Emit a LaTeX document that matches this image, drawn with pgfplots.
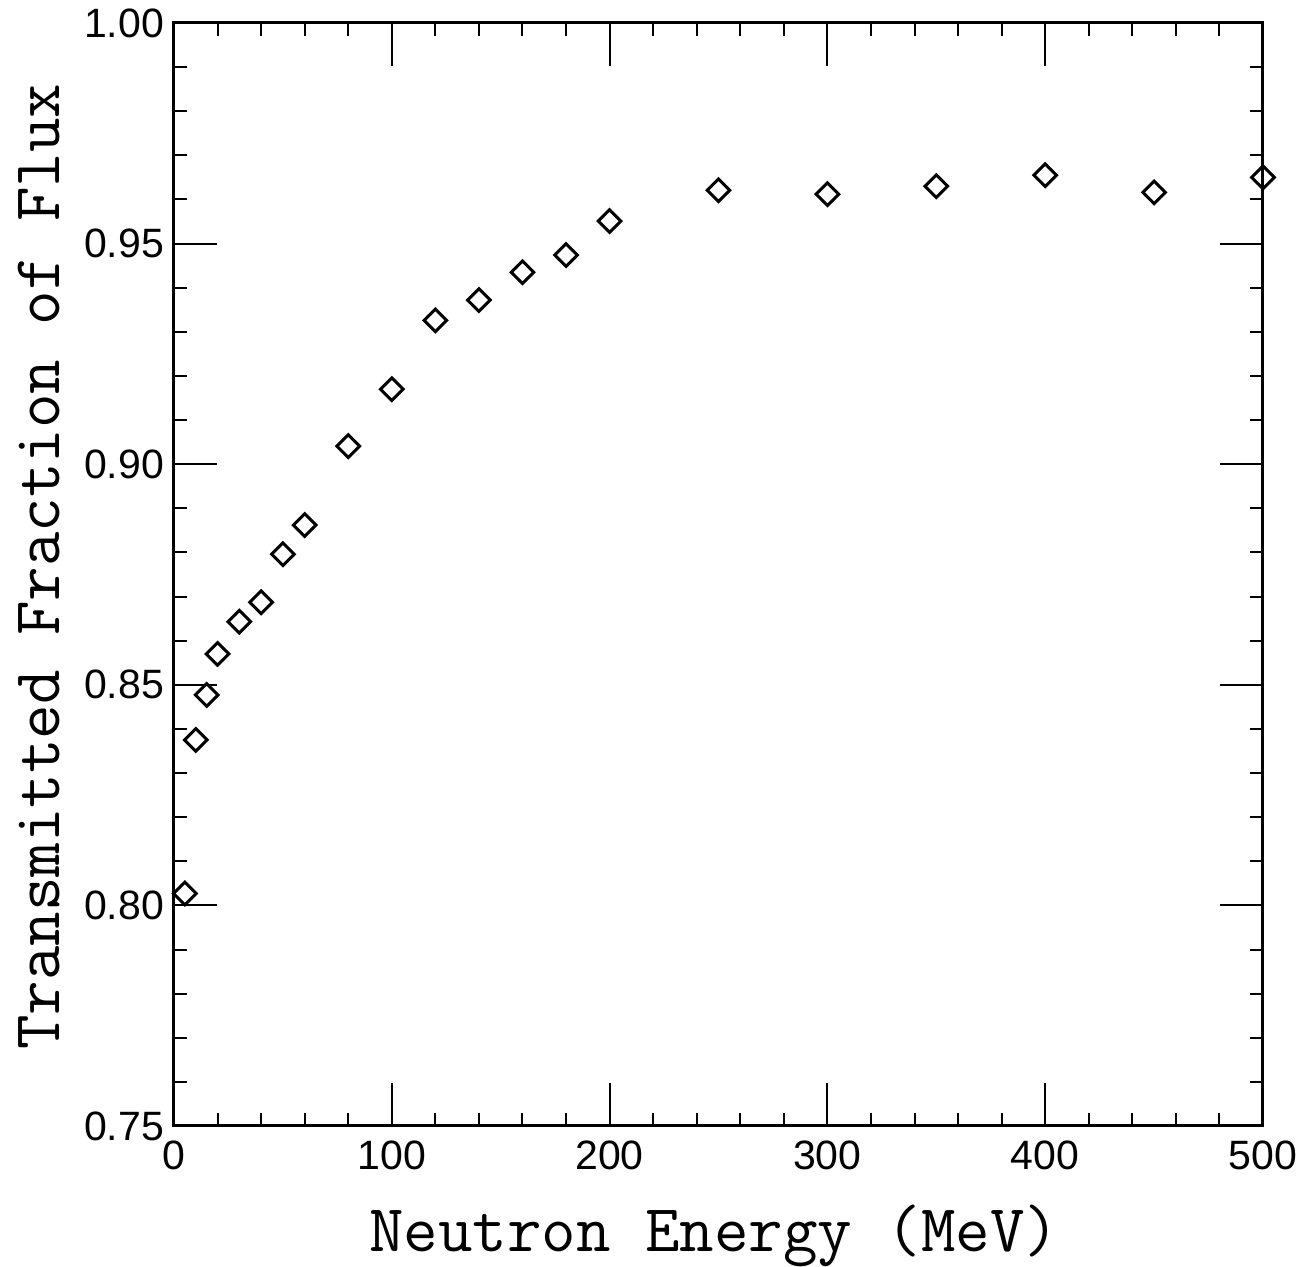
\documentclass[border=0pt]{standalone}
\usepackage{fontspec}
\setmainfont{Liberation Sans}
\usepackage{pgfplots}
\pgfplotsset{compat=1.18}
\pgfplotstableread{
x y
5 0.8027
10 0.8375
15 0.8477
20 0.8570
30 0.8643
40 0.8687
50 0.8796
60 0.8862
80 0.9041
100 0.9170
120 0.9326
140 0.9372
160 0.9435
180 0.9474
200 0.9551
250 0.9621
300 0.9612
350 0.9630
400 0.9655
450 0.9616
500 0.9650
}\datatable
\begin{document}
\begin{tikzpicture}
\begin{axis}[
  scale only axis, width=544.5pt, height=551.5pt,
  xmin=0, xmax=500, ymin=0.75, ymax=1.00,
  xtick={0,100,200,300,400,500},
  ytick={0.75,0.80,0.85,0.90,0.95,1.00},
  minor x tick num=4, minor y tick num=4,
  tick align=inside, tick pos=both,
  major tick length=21.5pt, minor tick length=6.5pt,
  axis line style={line width=1.5pt},
  every tick/.style={black, line width=1pt},
  yticklabel style={/pgf/number format/fixed, /pgf/number format/precision=2, /pgf/number format/fixed zerofill, xshift=-1.5pt},
  xticklabel style={yshift=-4pt},
  tick label style={font=\fontsize{20.5}{22}\selectfont},
  /pgf/number format/assume math mode=true,
  xlabel={Neutron Energy (MeV)},
  ylabel={Transmitted Fraction of Flux},
  xlabel style={font=\ttfamily\fontsize{33.5}{36}\selectfont, at={(axis description cs:0.496,-0.114)}, anchor=base},
  ylabel style={font=\ttfamily\fontsize{33.5}{36}\selectfont, at={(axis description cs:-0.124,0.507)}, anchor=center},
  clip=false,
]
\coordinate (O) at (rel axis cs:0,0);
\addplot[only marks, mark=square, mark options={rotate=45, line width=1.5pt, black}, mark size=4pt] table[x=x,y=y] {\datatable};
\end{axis}
\pgfresetboundingbox
\path[use as bounding box] ([xshift=-87pt,yshift=-70.5pt]O) rectangle ([xshift=566.5pt,yshift=563pt]O);
\end{tikzpicture}
\end{document}
